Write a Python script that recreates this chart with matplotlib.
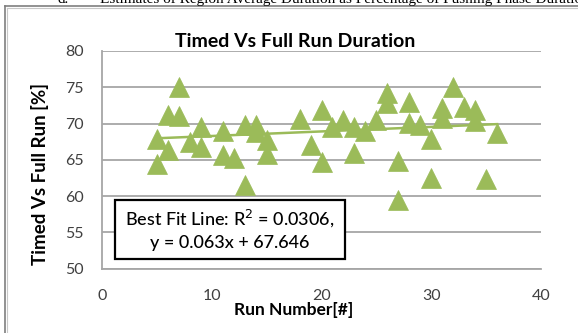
import matplotlib.pyplot as plt
from matplotlib.lines import Line2D
from matplotlib.patches import Rectangle
import numpy as np

# run number vs timed/full-run duration ratio [%]
run_number = [5, 5, 6, 6, 7, 7, 8, 9, 9, 11, 11, 12, 13, 13, 14, 14, 15, 15,
              18, 19, 20, 20, 21, 22, 23, 23, 24, 25, 26, 26, 27, 27, 28, 28,
              29, 30, 30, 31, 31, 32, 33, 34, 34, 35, 36]
timed_pct = [67.8, 64.4, 71.2, 66.4, 75.0, 71.0, 67.5, 69.5, 66.8, 69.0, 65.6,
             65.2, 69.8, 61.5, 69.8, 68.8, 67.7, 65.8,
             70.6, 67.1, 71.8, 64.7, 69.5, 70.5, 69.5, 65.9, 68.9, 70.5, 74.2,
             72.8, 64.8, 59.4, 72.9, 70.1,
             69.8, 67.8, 62.5, 72.1, 70.7, 75.1, 72.3, 71.9, 70.3, 62.3, 68.7]

# trendline as reported in the box
fit_slope = 0.063
fit_intercept = 67.646
fit_r2 = 0.0306

x_ticks = [0, 10, 20, 30, 40]
y_ticks = [50, 55, 60, 65, 70, 75, 80]

GREEN = '#9bbb59'
GRID = '#a6a6a6'
TICK = '#404040'
W, H = 578, 333

plt.rcParams['font.family'] = ['Lato', 'DejaVu Sans']

fig = plt.figure(figsize=(W / 100, H / 100), dpi=100)
fig.patch.set_facecolor('white')

def fx(px):
    return px / W

def fy(py):
    return 1 - py / H

# chart area frame (only top and left edges fall inside the image)
fig.add_artist(Line2D([fx(5), fx(5)], [fy(6), 0], color='#7f7f7f', lw=1.2))
fig.add_artist(Line2D([fx(5), 1], [fy(6), fy(6)], color='#7f7f7f', lw=1.2))
fig.add_artist(Line2D([fx(7), fx(7)], [fy(8), 0], color='#c8c8c8', lw=0.8))
fig.add_artist(Line2D([fx(7), 1], [fy(8), fy(8)], color='#c8c8c8', lw=0.8))

# caption of the surrounding document, cut by the top edge
fig.text(fx(58), fy(3), 'd.', family='Liberation Serif', fontsize=11,
         va='baseline', ha='left')
fig.text(fx(100), fy(3),
         'Estimates of Region Average Duration as Percentage of Pushing Phase Duration',
         family='Liberation Serif', fontsize=11, va='baseline', ha='left')

ax = fig.add_axes([fx(102), fy(268.5), fx(541) - fx(102), fy(51) - fy(268.5)])
ax.set_xlim(0, 40)
ax.set_ylim(50, 80)
ax.set_xticks(x_ticks)
ax.set_yticks(y_ticks)
ax.tick_params(length=0, labelsize=11.5, colors=TICK)
ax.tick_params(axis='y', pad=13)
ax.tick_params(axis='x', pad=15)
ax.grid(axis='y', color=GRID, lw=1.3)
ax.set_axisbelow(True)
for side in ['top', 'right']:
    ax.spines[side].set_visible(False)
for side in ['left', 'bottom']:
    ax.spines[side].set_color(GRID)
    ax.spines[side].set_linewidth(1.3)

ax.plot(run_number, timed_pct, linestyle='none', marker='^', markersize=15,
        color=GREEN, markeredgecolor=GREEN, markeredgewidth=0.5, zorder=3)

xs = np.array([min(run_number), max(run_number)])
ax.plot(xs, fit_slope * xs + fit_intercept, color=GREEN, lw=1.8, zorder=4)

fig.text(fx(295), fy(47), 'Timed Vs Full Run Duration', fontsize=14,
         fontweight='bold', ha='center', va='baseline')
fig.text(fx(40), fy(174), 'Timed Vs Full Run [%]', fontsize=13.5,
         fontweight='bold', rotation=90, ha='center', va='center')
fig.text(fx(294), fy(310), 'Run Number[#]', fontsize=12.5,
         fontweight='bold', ha='center', va='center')

# fit annotation box
fig.add_artist(Rectangle((fx(115), fy(259)), fx(345) - fx(115), fy(200) - fy(259),
                         transform=fig.transFigure, facecolor='white',
                         edgecolor='black', linewidth=1.6, zorder=6))
fig.text(fx(230), fy(218), 'Best Fit Line: R$^2$ = {:.4f},'.format(fit_r2),
         fontsize=13, fontweight='medium', ha='center', va='center', zorder=7)
fig.text(fx(230), fy(243), 'y = {:.3f}x + {:.3f}'.format(fit_slope, fit_intercept),
         fontsize=13, fontweight='medium', ha='center', va='center', zorder=7)

fig.savefig('out.png', dpi=100)
